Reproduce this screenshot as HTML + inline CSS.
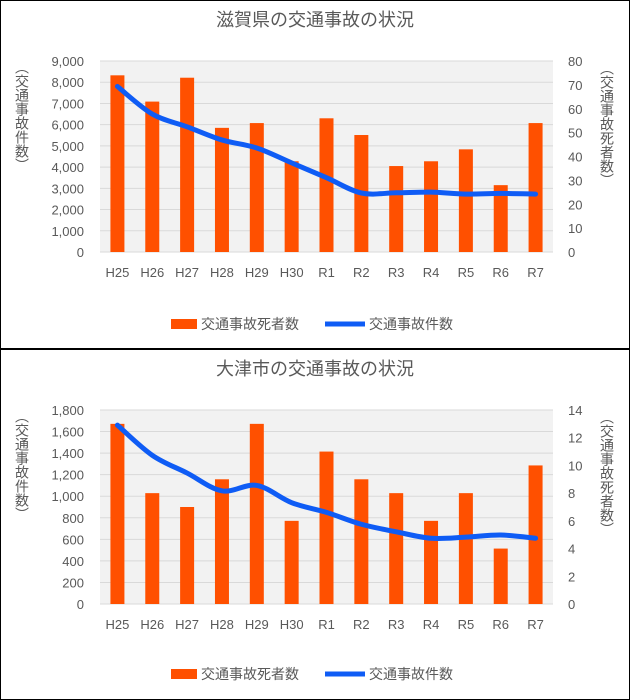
<!DOCTYPE html>
<html><head><meta charset="utf-8">
<style>
html,body{margin:0;padding:0;background:#fff;width:630px;height:700px;overflow:hidden}
svg{display:block;font-family:"Liberation Sans","Noto Sans CJK JP",sans-serif}
</style></head>
<body>
<svg id="svg" width="630" height="700" viewBox="0 0 630 700"></svg>
<script>
const categories=["H25","H26","H27","H28","H29","H30","R1","R2","R3","R4","R5","R6","R7"];
const shigaDeaths=[74,63,73,52,54,38,56,49,36,38,43,28,54];
const shigaAccidents=[7800,6500,5900,5280,4900,4200,3500,2780,2790,2820,2730,2760,2730];
const shigaLeftTicks=["0","1,000","2,000","3,000","4,000","5,000","6,000","7,000","8,000","9,000"];
const shigaRightTicks=["0","10","20","30","40","50","60","70","80"];
const otsuDeaths=[13,8,7,9,13,6,11,9,8,6,8,4,10];
const otsuAccidents=[1660,1380,1215,1050,1100,940,850,740,670,610,620,640,610];
const otsuLeftTicks=["0","200","400","600","800","1,000","1,200","1,400","1,600","1,800"];
const otsuRightTicks=["0","2","4","6","8","10","12","14"];

const NS="http://www.w3.org/2000/svg";
const svg=document.getElementById('svg');
function mk(tag,attrs,parent){const e=document.createElementNS(NS,tag);for(const k in attrs)e.setAttribute(k,attrs[k]);(parent||svg).appendChild(e);return e;}

function drawChart(o){
  const g=mk('g',{});
  
  
  const frame=mk('rect',{x:o.bx+0.5,y:o.by+0.5,width:629-o.bx,height:o.bh,fill:'#fff',stroke:'#000','stroke-width':1},g);
  
  
  const t=mk('text',{x:315,y:o.titleY,'text-anchor':'middle','font-size':18,fill:'#595959'},g);
  t.textContent=o.title;
  
  
  const L=100,R=553,T=o.top,B=o.bottom;
  mk('rect',{x:L,y:T,width:R-L,height:B-T,fill:'#f2f2f2'},g);
  const maxL=parseFloat(o.leftTicks[o.leftTicks.length-1].replace(/,/g,''));
  const maxR=parseFloat(o.rightTicks[o.rightTicks.length-1]);
  const yL=v=>B-(v/maxL)*(B-T);
  const yR=v=>B-(v/maxR)*(B-T);
  const band=(R-L)/categories.length;
  const xC=i=>L+band*(i+0.5);
  o.leftTicks.forEach(s=>{
    const v=parseFloat(s.replace(/,/g,''));const y=yL(v);
    mk('line',{x1:L,x2:R,y1:y,y2:y,stroke:'#d9d9d9','stroke-width':1},g);
    const tx=mk('text',{x:84,y:y+5,'text-anchor':'end','font-size':13,fill:'#595959'},g);
    tx.textContent=s;
    
    
  });
  o.rightTicks.forEach(s=>{
    const y=yR(parseFloat(s));
    const tx=mk('text',{x:568,y:y+5,'text-anchor':'start','font-size':13,fill:'#595959'},g);
    tx.textContent=s;
    
    
  });
  categories.forEach((c,i)=>{
    const v=o.deaths[i];
    const b=mk('rect',{x:xC(i)-7,y:yR(v),width:14,height:B-yR(v),fill:'#ff5000'},g);
    
    
    const tx=mk('text',{x:xC(i),y:B+25,'text-anchor':'middle','font-size':13,fill:'#595959'},g);
    tx.textContent=c;
    
    
  });
  const pts=o.accidents.map((v,i)=>[xC(i),yL(v)]);
  let d='M'+pts[0][0]+','+pts[0][1];
  for(let i=0;i<pts.length-1;i++){
    const p0=pts[Math.max(0,i-1)],p1=pts[i],p2=pts[i+1],p3=pts[Math.min(pts.length-1,i+2)];
    const c1=[p1[0]+(p2[0]-p0[0])/6,p1[1]+(p2[1]-p0[1])/6];
    const c2=[p2[0]-(p3[0]-p1[0])/6,p2[1]-(p3[1]-p1[1])/6];
    d+=' C'+c1+' '+c2+' '+p2;
  }
  const ln=mk('path',{d:d,fill:'none',stroke:'#0f5cf5','stroke-width':5,'stroke-linecap':'round','stroke-linejoin':'round'},g);
  
  
  const mid=(T+B)/2;
  const lt=mk('text',{x:22,y:mid,'text-anchor':'middle','font-size':14,fill:'#595959','writing-mode':'tb','glyph-orientation-vertical':0,transform:`translate(0,${-mid+T+55}) `},g);
  lt.textContent='（交通事故件数）';
  
  
  const rt=mk('text',{x:607,y:mid,'text-anchor':'middle','font-size':14,fill:'#595959','writing-mode':'tb','glyph-orientation-vertical':0,transform:`translate(0,${-mid+T+63})`},g);
  rt.textContent='（交通事故死者数）';
  
  
  const lg=mk('g',{},g);
  
  
  mk('rect',{x:171,y:o.legY-5,width:26,height:10,fill:'#ff5000'},lg);
  const l1=mk('text',{x:201,y:o.legY+5,'font-size':14,fill:'#595959'},lg);l1.textContent='交通事故死者数';
  
  
  mk('line',{x1:325,x2:365,y1:o.legY,y2:o.legY,stroke:'#0f5cf5','stroke-width':5},lg);
  const l2=mk('text',{x:369,y:o.legY+5,'font-size':14,fill:'#595959'},lg);l2.textContent='交通事故件数';
  
  
}
drawChart({name:'shiga-chart',bx:0,by:0,bh:348,title:'滋賀県の交通事故の状況',titleY:26,top:61,bottom:252,leftTicks:shigaLeftTicks,rightTicks:shigaRightTicks,deaths:shigaDeaths,accidents:shigaAccidents,legY:324});
drawChart({name:'otsu-chart',bx:0,by:349,bh:350,title:'大津市の交通事故の状況',titleY:375,top:410,bottom:604,leftTicks:otsuLeftTicks,rightTicks:otsuRightTicks,deaths:otsuDeaths,accidents:otsuAccidents,legY:674});
</script>
</body></html>
